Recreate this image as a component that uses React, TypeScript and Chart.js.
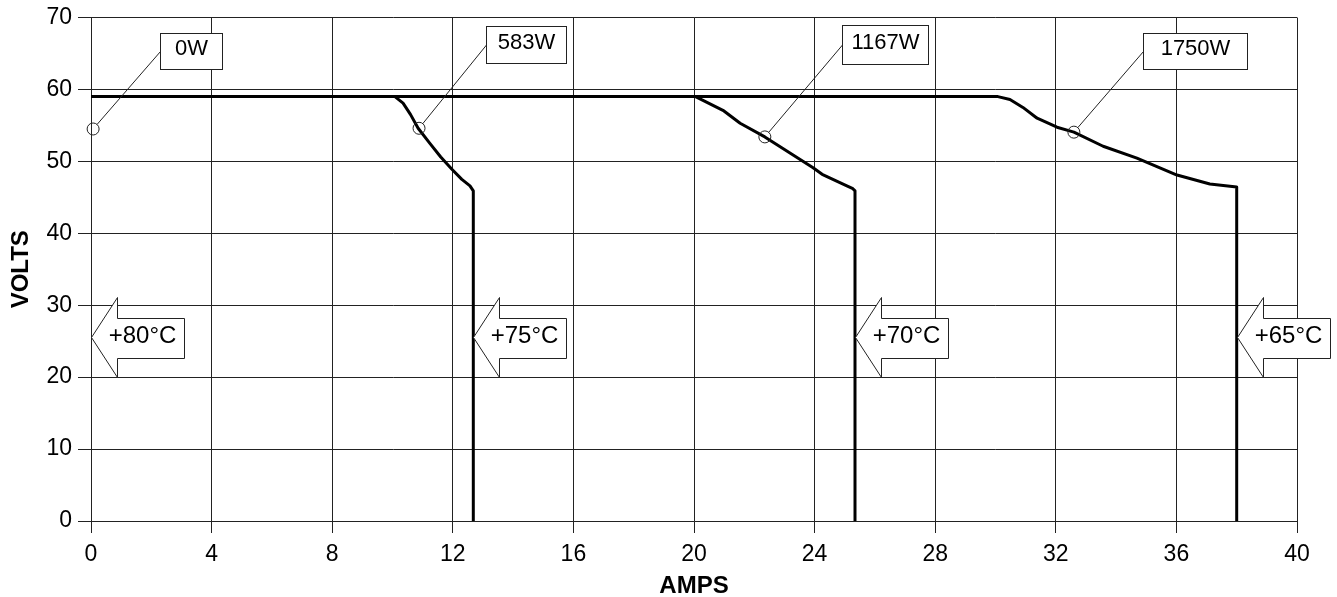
import React, { useEffect, useRef } from 'react';
import { Chart, registerables } from 'chart.js';

Chart.register(...registerables);

// ---- Axis settings ----
const xMin = 0;
const xMax = 40;
const xStep = 4;
const yMin = 0;
const yMax = 70;
const yStep = 10;
const xTitle = 'AMPS';
const yTitle = 'VOLTS';

// ---- Curves (AMPS, VOLTS) ----
const amps583 = [0, 10.08, 10.35, 10.6, 10.85, 11.24, 11.6, 11.97, 12.3, 12.57, 12.68, 12.68];
const volts583 = [59, 59, 58.1, 56.5, 54.6, 52.5, 50.6, 48.9, 47.5, 46.6, 45.9, 0];

const amps1167 = [0, 20.05, 20.96, 21.53, 22.35, 23.95, 24.25, 25.07, 25.27, 25.34, 25.34];
const volts1167 = [59, 59, 57.1, 55.3, 53.4, 49.1, 48.2, 46.6, 46.2, 45.9, 0];

const amps1750 = [0, 30.08, 30.48, 30.91, 31.38, 32.04, 32.6, 33.57, 34.69, 36.02, 37.11, 38.0, 38.0];
const volts1750 = [59, 59, 58.6, 57.5, 56.0, 54.75, 54.06, 52.1, 50.46, 48.1, 46.85, 46.44, 0];

// ---- Power labels (point on curve) ----
const powerLabels = ['0W', '583W', '1167W', '1750W'];
const powerPointAmps = [0.07, 10.88, 22.35, 32.6];
const powerPointVolts = [54.5, 54.6, 53.4, 54.06];

// ---- Temperature arrows (tip position) ----
const tempLabels = ['+80°C', '+75°C', '+70°C', '+65°C'];
const tempTipAmps = [0, 12.68, 25.34, 38.0];
const tempTipVolts = [25.6, 25.6, 25.6, 25.6];

// styling of the annotation boxes (pixel offsets from the circled point)
const powerBoxStyle = [
  { dx: 67, dy: -96, w: 62, h: 36 },
  { dx: 67, dy: -102, w: 80, h: 37 },
  { dx: 77, dy: -112, w: 86, h: 39 },
  { dx: 69, dy: -99, w: 104, h: 36 },
];

const FONT = '"Liberation Sans", Arial, Helvetica, sans-serif';

const toPoints = (xs: number[], ys: number[]) => xs.map((x, i) => ({ x, y: ys[i] }));

const annotPlugin = {
  id: 'annot',
  afterDatasetsDraw(chart: any) {
    const ctx = chart.ctx as CanvasRenderingContext2D;
    const xs = chart.scales.x;
    const ys = chart.scales.y;
    ctx.save();
    ctx.lineWidth = 1;
    ctx.strokeStyle = '#222';

    // power labels
    powerLabels.forEach((t, i) => {
      const cx = xs.getPixelForValue(powerPointAmps[i]);
      const cy = ys.getPixelForValue(powerPointVolts[i]);
      const b = powerBoxStyle[i];
      const bx = Math.round(cx + b.dx) + 0.5;
      const by = Math.round(cy + b.dy) + 0.5;
      const r = 6;
      ctx.beginPath();
      ctx.arc(cx, cy, r, 0, Math.PI * 2);
      ctx.stroke();
      const lx = bx;
      const ly = by + b.h / 2;
      const ang = Math.atan2(ly - cy, lx - cx);
      ctx.beginPath();
      ctx.moveTo(cx + r * Math.cos(ang), cy + r * Math.sin(ang));
      ctx.lineTo(lx, ly);
      ctx.stroke();
      ctx.fillStyle = '#fff';
      ctx.fillRect(bx, by, b.w, b.h);
      ctx.strokeRect(bx, by, b.w, b.h);
      ctx.fillStyle = '#000';
      ctx.font = `22px ${FONT}`;
      ctx.textAlign = 'center';
      ctx.textBaseline = 'middle';
      ctx.fillText(t, bx + b.w / 2, by + b.h / 2 - 2.5);
    });

    // temperature arrows
    tempLabels.forEach((t, i) => {
      const tx = Math.round(xs.getPixelForValue(tempTipAmps[i])) + 0.5;
      const ty = Math.round(ys.getPixelForValue(tempTipVolts[i])) + 0.5;
      ctx.beginPath();
      ctx.moveTo(tx, ty);
      ctx.lineTo(tx + 26, ty - 40);
      ctx.lineTo(tx + 26, ty - 19);
      ctx.lineTo(tx + 93, ty - 19);
      ctx.lineTo(tx + 93, ty + 21);
      ctx.lineTo(tx + 26, ty + 21);
      ctx.lineTo(tx + 26, ty + 40);
      ctx.closePath();
      ctx.fillStyle = '#fff';
      ctx.fill();
      ctx.stroke();
      ctx.fillStyle = '#000';
      ctx.font = `24px ${FONT}`;
      ctx.textAlign = 'center';
      ctx.textBaseline = 'middle';
      ctx.fillText(t, tx + 51, ty - 1);
    });
    ctx.restore();
  },
};

export default function App() {
  const ref = useRef<HTMLCanvasElement | null>(null);

  useEffect(() => {
    if (!ref.current) return;
    const lineStyle = {
      borderColor: '#000',
      borderWidth: 3,
      pointRadius: 0,
      showLine: true,
      tension: 0,
      fill: false,
      borderJoinStyle: 'round' as const,
      borderCapStyle: 'butt' as const,
    };
    const chart = new Chart(ref.current, {
      type: 'scatter',
      data: {
        datasets: [
          { label: '583W', data: toPoints(amps583, volts583), ...lineStyle },
          { label: '1167W', data: toPoints(amps1167, volts1167), ...lineStyle },
          { label: '1750W', data: toPoints(amps1750, volts1750), ...lineStyle },
        ],
      },
      options: {
        animation: false,
        responsive: false,
        devicePixelRatio: 1,
        layout: { padding: { top: 15, right: 40, left: 0, bottom: 0 } },
        plugins: {
          legend: { display: false },
          tooltip: { enabled: false },
        },
        scales: {
          x: {
            type: 'linear',
            min: xMin,
            max: xMax,
            afterFit: (s: any) => {
              s.height = 76;
            },
            ticks: {
              stepSize: xStep,
              color: '#000',
              font: { family: FONT, size: 23 },
              padding: 8,
              maxRotation: 0,
            },
            grid: { color: '#222', lineWidth: 1, tickLength: 12, tickColor: '#222' },
            border: { color: '#222', width: 1 },
            title: {
              display: true,
              text: xTitle,
              color: '#000',
              font: { family: FONT, size: 24, weight: 'bold', lineHeight: 1 },
              padding: { top: 0, bottom: -1 },
            },
          },
          y: {
            type: 'linear',
            min: yMin,
            max: yMax,
            afterFit: (s: any) => {
              s.width = 91;
            },
            ticks: {
              stepSize: yStep,
              color: '#000',
              font: { family: FONT, size: 23, lineHeight: 1 },
              padding: 6,
            },
            grid: { color: '#222', lineWidth: 1, tickLength: 13, tickColor: '#222' },
            border: { color: '#222', width: 1 },
            title: {
              display: true,
              text: yTitle,
              color: '#000',
              font: { family: FONT, size: 24, weight: 'bold', lineHeight: 1 },
              padding: { top: 9, bottom: 0 },
            },
          },
        },
      },
      plugins: [annotPlugin],
    });
    return () => chart.destroy();
  }, []);

  return (
    <div style={{ position: 'absolute', left: 0, top: 0, width: 1337, height: 597, background: '#fff' }}>
      <canvas ref={ref} width={1337} height={597} />
    </div>
  );
}
